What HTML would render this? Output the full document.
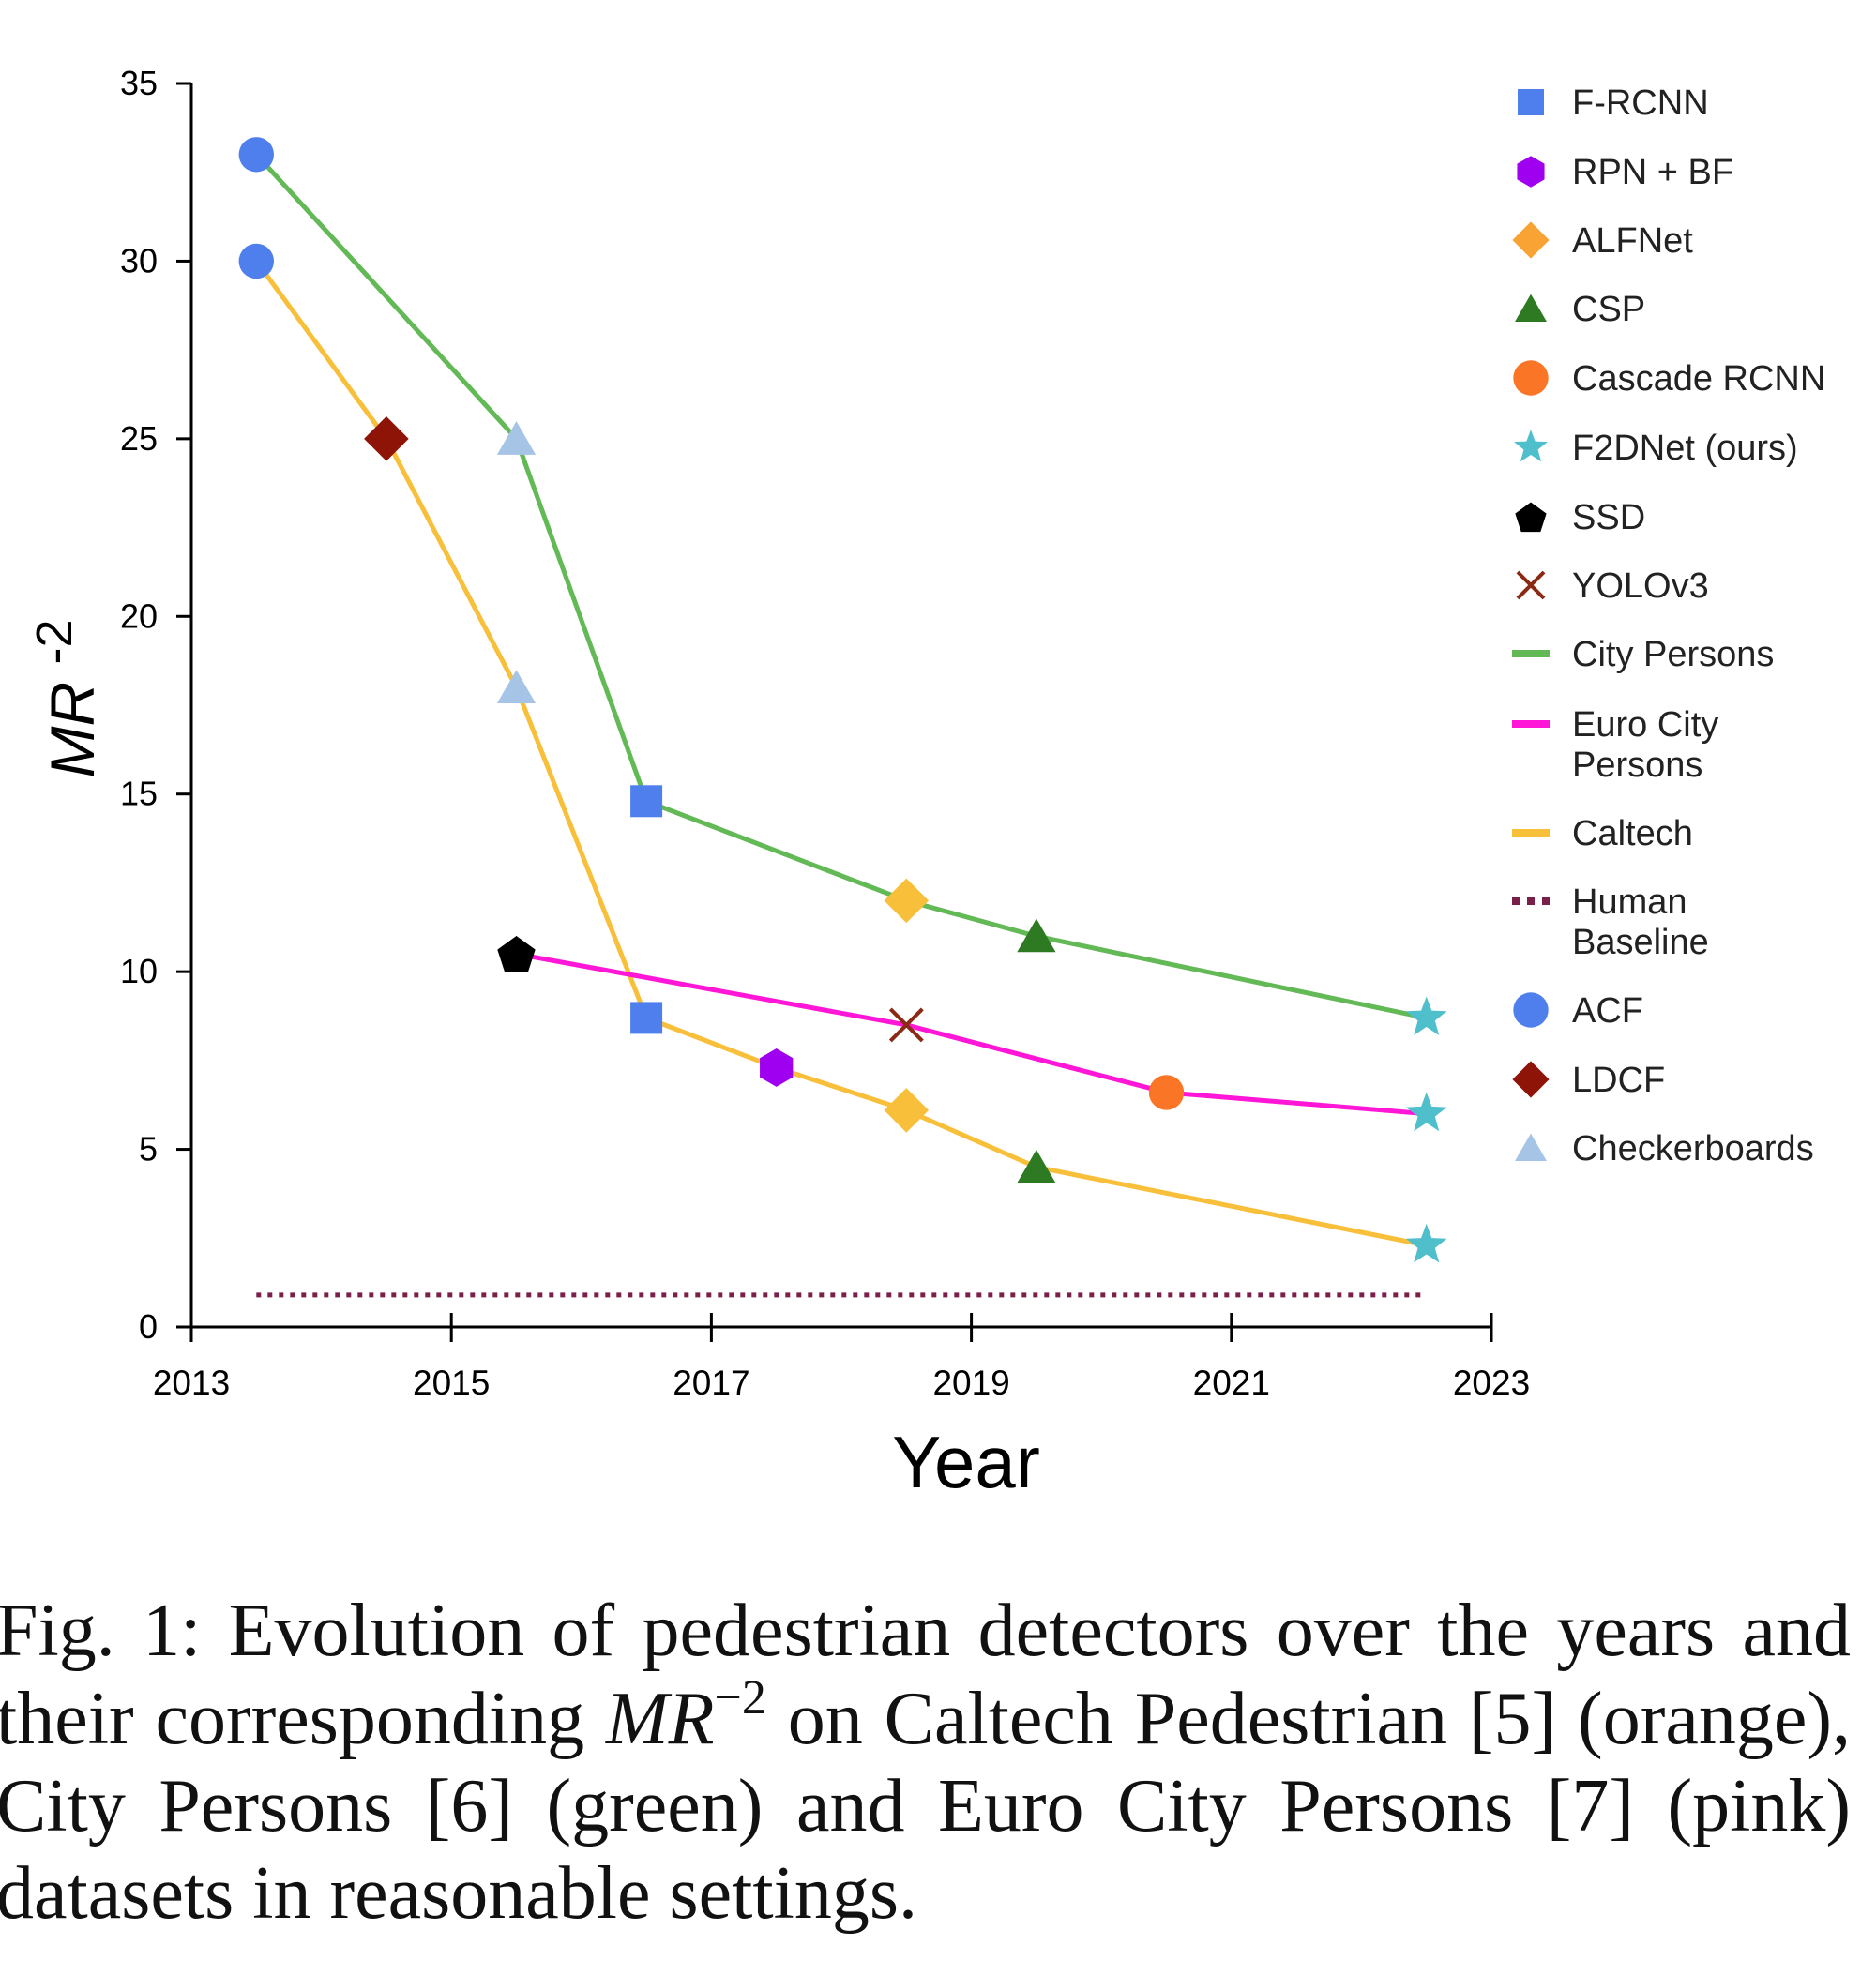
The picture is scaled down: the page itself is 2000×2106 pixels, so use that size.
<!DOCTYPE html>
<html><head><meta charset="utf-8"><style>
body{margin:0;background:#fff;width:2000px;height:2106px;overflow:hidden;position:relative}
svg{position:absolute;left:0;top:0}
.cap{position:absolute;left:-4px;width:1977px;font-family:"Liberation Serif",serif;font-size:80px;color:#111;white-space:nowrap;line-height:93px;height:93px}
.j{text-align:justify;text-align-last:justify}
.sup{font-size:52px;position:relative;top:-32px;line-height:0}
</style></head><body>
<svg id="chart" width="2000" height="1640"></svg>
<div class="cap j" style="top:1693px">Fig. 1: Evolution of pedestrian detectors over the years and</div>
<div class="cap j" style="top:1787px">their corresponding <i>MR</i><span class="sup">−2</span> on Caltech Pedestrian [5] (orange),</div>
<div class="cap j" style="top:1880px">City Persons [6] (green) and Euro City Persons [7] (pink)</div>
<div class="cap" style="top:1973px">datasets in reasonable settings.</div>
<script>
const cityYears=[2013.5,2015.5,2016.5,2018.5,2019.5,2022.5];
const cityVals=[33,25,14.8,12,11,8.7];
const cityMarks=['acf','checker','frcnn','alf','csp','f2d'];
const calYears=[2013.5,2014.5,2015.5,2016.5,2017.5,2018.5,2019.5,2022.5];
const calVals=[30,25,18,8.7,7.3,6.1,4.5,2.3];
const calMarks=['acf','ldcf','checker','frcnn','rpn','alf','csp','f2d'];
const euroYears=[2015.5,2018.5,2020.5,2022.5];
const euroVals=[10.5,8.5,6.6,6.0];
const euroMarks=['ssd','yolo','cascade','f2d'];
const humanYears=[2013.5,2022.5];
const humanVals=[0.9,0.9];
const xTicks=[2013,2015,2017,2019,2021,2023];
const yTicks=[0,5,10,15,20,25,30,35];
const legendNames=['F-RCNN','RPN + BF','ALFNet','CSP','Cascade RCNN','F2DNet (ours)','SSD','YOLOv3','City Persons','Euro City|Persons','Caltech','Human|Baseline','ACF','LDCF','Checkerboards'];
const legendKeys=['frcnn','rpn','alf','csp','cascade','f2d','ssd','yolo','lineCity','lineEuro','lineCal','lineHuman','acf','ldcf','checker'];

const X0=204,X1=1590,Y0=1415,Y35=89;
const X=v=>X0+(v-2013)*(X1-X0)/10;
const Y=v=>Y0-v*(Y0-Y35)/35;
const svg=document.getElementById('chart');
const NS='http://www.w3.org/2000/svg';
function mk(t,a,p){const e=document.createElementNS(NS,t);for(const k in a)e.setAttribute(k,a[k]);(p||svg).appendChild(e);return e;}

let ax=mk('line',{x1:X0,y1:Y35,x2:X0,y2:Y0,stroke:'#000','stroke-width':3});


ax=mk('line',{x1:X0-14,y1:Y0,x2:X1,y2:Y0,stroke:'#000','stroke-width':3});


yTicks.forEach(t=>{
  mk('line',{x1:X0-16,y1:Y(t),x2:X0,y2:Y(t),stroke:'#000','stroke-width':3});
  const tx=mk('text',{x:X0-36,y:Y(t)+12,'text-anchor':'end','font-size':36,'font-family':'Liberation Sans, sans-serif'});
  tx.textContent=t;
  
  
});
xTicks.forEach(t=>{
  mk('line',{x1:X(t),y1:Y0-15,x2:X(t),y2:Y0+16,stroke:'#000','stroke-width':3});
  const tx=mk('text',{x:X(t),y:Y0+72,'text-anchor':'middle','font-size':37,'font-family':'Liberation Sans, sans-serif'});
  tx.textContent=t;
  
  
});
let t=mk('text',{x:1030,y:1586,'text-anchor':'middle','font-size':78,'font-family':'Liberation Sans, sans-serif'});
t.textContent='Year';


t=mk('text',{transform:'translate(100,745) rotate(-90)','text-anchor':'middle','font-size':66,'font-style':'italic','font-family':'Liberation Sans, sans-serif'});
t.innerHTML='MR <tspan dy="-24" font-style="normal" font-size="54">-2</tspan>';



function line(xs,vs,color,w,dash,name){
  const p=mk('polyline',{points:xs.map((x,i)=>X(x)+','+Y(vs[i])).join(' '),fill:'none',stroke:color,'stroke-width':w,'stroke-dasharray':dash||'none'});
  
  
}
const markerColors={frcnn:'#4f7fec',rpn:'#a000f0',alf:'#f8b332',csp:'#2e7a22',cascade:'#fb7527',f2d:'#4fbfcc',ssd:'#000',yolo:'#8b2a14',acf:'#4f7fec',ldcf:'#8f1408',checker:'#a6c4e6'};
function poly(n,r,cx,cy,rot){const a=[];for(let i=0;i<n;i++){const ang=rot+i*2*Math.PI/n;a.push((cx+r*Math.cos(ang))+','+(cy+r*Math.sin(ang)));}return a.join(' ');}
function star(cx,cy,r){const a=[];for(let i=0;i<10;i++){const rr=i%2?r*0.42:r;const ang=-Math.PI/2+i*Math.PI/5;a.push((cx+rr*Math.cos(ang))+','+(cy+rr*Math.sin(ang)));}return a.join(' ');}
function marker(k,cx,cy,s,name,colorOverride){
  const c=colorOverride||markerColors[k];let e;
  if(k==='frcnn')e=mk('rect',{x:cx-s,y:cy-s,width:2*s,height:2*s,fill:c});
  else if(k==='rpn')e=mk('polygon',{points:poly(6,s*1.2,cx,cy,-Math.PI/2),fill:c});
  else if(k==='alf'||k==='ldcf')e=mk('polygon',{points:poly(4,s*1.4,cx,cy,0),fill:c});
  else if(k==='csp'||k==='checker')e=mk('polygon',{points:poly(3,s*1.4,cx,cy+s*0.3,-Math.PI/2),fill:c});
  else if(k==='cascade'||k==='acf')e=mk('circle',{cx:cx,cy:cy,r:s*1.1,fill:c});
  else if(k==='f2d')e=mk('polygon',{points:star(cx,cy,s*1.35),fill:c});
  else if(k==='ssd')e=mk('polygon',{points:poly(5,s*1.25,cx,cy+2,-Math.PI/2),fill:c});
  else if(k==='yolo'){e=mk('path',{d:`M${cx-s},${cy-s}L${cx+s},${cy+s}M${cx+s},${cy-s}L${cx-s},${cy+s}`,stroke:c,'stroke-width':4});}
  
  
}
line(humanYears,humanVals,'#7a1f4a',5,'5 7','human-baseline-line');
line(cityYears,cityVals,'#62b955',5,null,'city-persons-line');
line(calYears,calVals,'#f8bf3a',5,null,'caltech-line');
line(euroYears,euroVals,'#ff16d6',5,null,'euro-city-persons-line');
cityYears.forEach((x,i)=>marker(cityMarks[i],X(x),Y(cityVals[i]),17,'city-point-'+cityMarks[i],cityMarks[i]==='alf'?'#f8bf3a':null));
calYears.forEach((x,i)=>marker(calMarks[i],X(x),Y(calVals[i]),17,'caltech-point-'+calMarks[i],calMarks[i]==='alf'?'#f8bf3a':null));
euroYears.forEach((x,i)=>marker(euroMarks[i],X(x),Y(euroVals[i]),17,'euro-point-'+euroMarks[i]));

const rowY=[109,183,256,329,403,477,551,624,697,772,888,961,1077,1151,1224];
const lineColors={lineCity:'#62b955',lineEuro:'#ff16d6',lineCal:'#f8bf3a',lineHuman:'#7a1f4a'};
legendNames.forEach((n,i)=>{
  const k=legendKeys[i],y=rowY[i];
  const g=mk('g',{});
  
  
  if(lineColors[k]){
    mk('line',{x1:1612,y1:y,x2:1652,y2:y,stroke:lineColors[k],'stroke-width':8,'stroke-dasharray':k==='lineHuman'?'8 8':'none'},g);
  } else {
    const c=k==='alf'?'#f9a334':null;
    marker(k,1632,y,k==='cascade'||k==='acf'?17:14,'legend-marker-'+k,c);
  }
  const parts=n.split('|');
  parts.forEach((p,j)=>{
    const tx=mk('text',{x:1676,y:y+13+j*43,'font-size':38,'font-family':'Liberation Sans, sans-serif',fill:'#222'},g);
    tx.textContent=p;
  });
});
</script>
</body></html>
